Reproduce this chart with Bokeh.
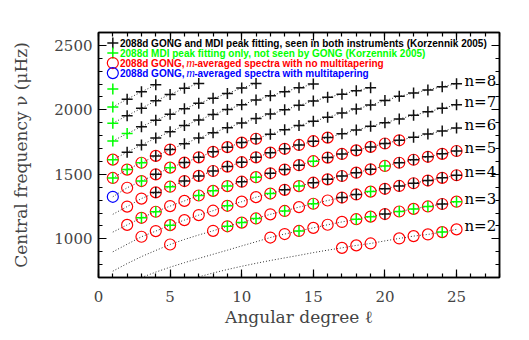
from bokeh.plotting import figure
from bokeh.models import LinearAxis, FixedTicker, Range1d
from bokeh.core.properties import value
from bokeh.embed import file_html
from bokeh.resources import INLINE

N = None
degrees = list(range(1, 26))

# central frequencies (muHz) per radial order, l = 1..25
nu_n2 = [N, N, N, N, N, N, 705, 735, 762, 787, 810, 832, 852, 872, 893, 912, 930, 949, 964, 984, 1003, 1021, 1034, 1052, 1073]
nu_n3 = [N, N, 700, 742, 780, 815, 848, 880, 912, 945, 977, 1010, 1037, 1061, 1085, 1109, 1131, 1152, 1172, 1192, 1212, 1232, 1251, 1270, 1288]
nu_n4 = [749, 808, 862, 910, 956, 995, 1030, 1062, 1097, 1126, 1158, 1190, 1216, 1246, 1272, 1297, 1320, 1344, 1366, 1388, 1410, 1431, 1452, 1473, 1493]
nu_n5 = [899, 958, 1016, 1060, 1106, 1145, 1184, 1218, 1256, 1288, 1323, 1351, 1380, 1409, 1435, 1461, 1487, 1513, 1539, 1565, 1590, 1613, 1636, 1659, 1681]
nu_n6 = [1052, 1108, 1163, 1210, 1254, 1294, 1336, 1372, 1409, 1443, 1478, 1508, 1537, 1571, 1602, 1630, 1658, 1686, 1713, 1739, 1764, 1788, 1812, 1836, 1860]
nu_n7 = [1190, 1250, 1312, 1360, 1404, 1448, 1488, 1526, 1560, 1594, 1632, 1668, 1698, 1728, 1757, 1785, 1814, 1843, 1872, 1901, 1930, 1958, 1985, 2012, 2039]
nu_n8 = [1326, 1396, 1448, 1500, 1552, 1591, 1632, 1675, 1711, 1746, 1776, 1811, 1845, 1878, 1911, 1943, 1975, 2006, 2037, 2072, 2105, 2130, 2155, 2180, 2202]
nu_n9 = [1472, 1537, 1590, 1643, 1692, 1738, 1782, 1823, 1862, 1898, 1933, 1967, 2000, 2035, 2069, 2097, 2122, 2148, 2172, N, N, N, N, N, N]
nu_n10 = [1614, 1672, 1728, 1781, 1831, 1878, 1922, 1964, 2003, 2040, 2076, 2109, 2141, 2172, 2200, N, N, N, N, N, N, N, N, N, N]
nu_n11 = [1759, 1816, 1870, 1920, 1966, 2009, 2051, 2090, 2127, 2169, 2204, N, N, N, N, N, N, N, N, N, N, N, N, N, N]
nu_n12 = [1897, 1955, 2013, 2070, 2120, 2168, 2204, N, N, N, N, N, N, N, N, N, N, N, N, N, N, N, N, N, N]
nu_n13 = [2023, 2083, 2140, 2194, N, N, N, N, N, N, N, N, N, N, N, N, N, N, N, N, N, N, N, N, N]
nu_n14 = [2162, N, N, N, N, N, N, N, N, N, N, N, N, N, N, N, N, N, N, N, N, N, N, N, N]

# which measurement sets contain each mode, l = 1..25
# B: GONG+MDI peak fit, G: MDI only, R: m-averaged, X: R+B, Y: R+G, U: multitapered
codes_n2 = "................RRR.RRRYR"
codes_n3 = "...........RRYRRRYYXYYYXY"
codes_n4 = "....R..RYYYRYRYRXXYXXXXXX"
codes_n5 = "..RRYRRRYRRYXYXXXXXYXXXXX"
codes_n6 = ".RYYRRYYYXYXXXYXXXXXXBBBB"
codes_n7 = ".RRXYXXXXXXXXXXXBBBBBBBBB"
codes_n8 = "URYXYXXXXXXBBBBBBBBBBBBBB"
codes_n9 = "YYYXXBBBBBBBBBBBBBB......"
codes_n10 = "YBBBBBBBBBBBBBB.........."
codes_n11 = "GGBBBBBBBBB.............."
codes_n12 = "GBBBBBB.................."
codes_n13 = "GBBB....................."
codes_n14 = "G........................"

series = [nu_n2, nu_n3, nu_n4, nu_n5, nu_n6, nu_n7, nu_n8, nu_n9, nu_n10, nu_n11, nu_n12, nu_n13, nu_n14]
codes = [codes_n2, codes_n3, codes_n4, codes_n5, codes_n6, codes_n7, codes_n8, codes_n9, codes_n10, codes_n11, codes_n12, codes_n13, codes_n14]
labelled_orders = ["n=2", "n=3", "n=4", "n=5", "n=6", "n=7", "n=8"]

legend_texts = [
    "2088d GONG and MDI peak fitting, seen in both instruments (Korzennik 2005)",
    "2088d MDI peak fitting only, not seen by GONG (Korzennik 2005)",
]

GREEN = "#00ff00"
RED = "#ff0000"
BLUE = "#0000ff"
BLACK = "#111111"

p = figure(width=521, height=330, output_backend="svg", toolbar_location=None,
           x_range=Range1d(0, 28), y_range=Range1d(700, 2600),
           min_border_left=98, min_border_right=22, min_border_top=32, min_border_bottom=53)
p.xgrid.visible = False
p.ygrid.visible = False
p.outline_line_color = "black"
p.outline_line_width = 1.5
p.background_fill_color = "white"
p.border_fill_color = "white"

SERIF = "DejaVu Serif"

def style_axis(ax, ticks, minor, show_labels):
    ax.ticker = FixedTicker(ticks=ticks, minor_ticks=minor)
    ax.major_tick_in = 8
    ax.major_tick_out = 0
    ax.minor_tick_in = 4
    ax.minor_tick_out = 0
    ax.axis_line_color = "black"
    ax.axis_line_width = 1.5
    ax.major_tick_line_width = 1.2
    ax.minor_tick_line_width = 1.2
    ax.major_label_text_font = SERIF
    if show_labels:
        ax.major_label_text_font_size = "15px"
    else:
        ax.major_label_text_font_size = "1px"
        ax.major_label_text_color = None
        ax.major_label_text_alpha = 0
        ax.major_label_standoff = 0
    ax.axis_label_text_font = SERIF
    ax.axis_label_text_font_style = "normal"
    ax.axis_label_text_font_size = "17px"

xt = [0, 5, 10, 15, 20, 25]
xm = list(range(0, 29))
yt = [1000, 1500, 2000, 2500]
ym = list(range(700, 2601, 100))

style_axis(p.xaxis[0], xt, xm, True)
style_axis(p.yaxis[0], yt, ym, True)
p.xaxis[0].axis_label = "Angular degree ℓ"
p.yaxis[0].axis_label = "Central frequency ν (μHz)"
p.xaxis[0].major_label_standoff = 13
p.xaxis[0].axis_label_standoff = 2
p.yaxis[0].major_label_standoff = 6
p.yaxis[0].axis_label_standoff = 20

top = LinearAxis()
style_axis(top, xt, xm, False)
p.add_layout(top, "above")
right = LinearAxis()
style_axis(right, yt, ym, False)
p.add_layout(right, "right")

bx, by, gx, gy, rx, ry, ux, uy = [], [], [], [], [], [], [], []
for nu, code in zip(series, codes):
    lx = [l for l, v in zip(degrees, nu) if v is not None]
    ly = [v for v in nu if v is not None]
    p.line(lx, ly, line_color="#333333", line_width=1, line_dash="1 2")
    for l, v, c in zip(degrees, nu, code):
        if v is None:
            continue
        if c in "RXY":
            rx.append(l); ry.append(v)
        if c == "U":
            ux.append(l); uy.append(v)
        if c in "BX":
            bx.append(l); by.append(v)
        if c in "GY":
            gx.append(l); gy.append(v)

p.scatter(rx, ry, marker="circle", size=11, fill_color=None, line_color=RED, line_width=1.2)
p.scatter(ux, uy, marker="circle", size=11, fill_color=None, line_color=BLUE, line_width=1.2)
p.scatter(gx, gy, marker="cross", size=11, line_color=GREEN, line_width=1.5)
p.scatter(bx, by, marker="cross", size=11, line_color=BLACK, line_width=1.5)

# order labels at the right end of the ridges
ends = [s[-1] for s in series[:7]]
p.text(x=[25.55] * 7, y=ends, text=labelled_orders, text_font=value(SERIF),
       text_font_size="15px", text_baseline="middle", text_align="left",
       text_color="black", y_offset=-3)

# legend drawn by hand (texts in colour of their symbol)
LF = value("Liberation Sans")
legend_y = [2518, 2441, 2363, 2285]
p.scatter([1.0], [legend_y[0]], marker="cross", size=11, line_color=BLACK, line_width=1.5)
p.scatter([1.0], [legend_y[1]], marker="cross", size=11, line_color=GREEN, line_width=1.5)
p.scatter([1.0], [legend_y[2]], marker="circle", size=11, fill_color=None, line_color=RED, line_width=1.2)
p.scatter([1.0], [legend_y[3]], marker="circle", size=11, fill_color=None, line_color=BLUE, line_width=1.2)
p.text(x=[1.5, 1.5], y=legend_y[:2], text=legend_texts, text_font=LF, text_font_style="bold",
       text_font_size="10px", text_baseline="middle", text_color=["black", GREEN])
for yy, col, tail in [(legend_y[2], RED, "-averaged spectra with no multitapering"),
                      (legend_y[3], BLUE, "-averaged spectra with multitapering")]:
    p.text(x=[1.5], y=[yy], text=["2088d GONG,"], text_font=LF, text_font_style="bold",
           text_font_size="10px", text_baseline="middle", text_color=col)
    p.text(x=[6.12], y=[yy], text=["m"], text_font=value("Liberation Serif"), text_font_style="italic",
           text_font_size="12px", text_baseline="middle", text_color=col)
    p.text(x=[6.68], y=[yy], text=[tail], text_font=LF, text_font_style="bold",
           text_font_size="10px", text_baseline="middle", text_color=col)

open("out.html", "w").write(file_html(p, INLINE))
